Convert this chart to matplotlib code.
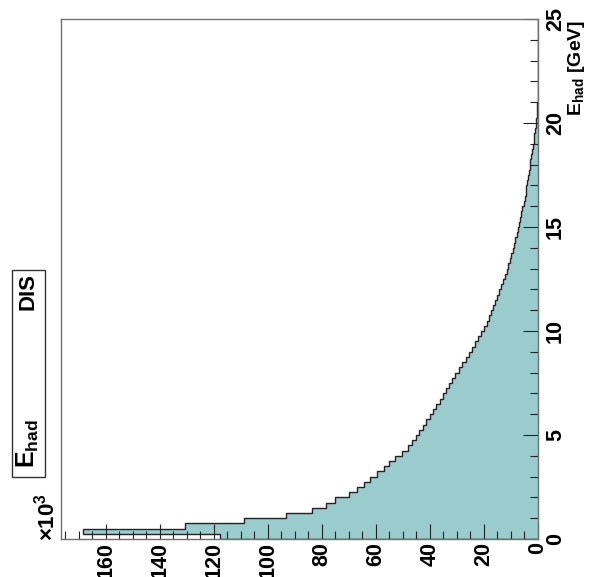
import numpy as np
import matplotlib
matplotlib.use("Agg")
import matplotlib.pyplot as plt
from matplotlib.ticker import MultipleLocator
from matplotlib.patches import Rectangle

plt.rcParams['font.family'] = ['Liberation Sans', 'DejaVu Sans']
plt.rcParams['mathtext.fontset'] = 'custom'
plt.rcParams['mathtext.rm'] = 'Liberation Sans:bold'
plt.rcParams['mathtext.bf'] = 'Liberation Sans:bold'
plt.rcParams['mathtext.default'] = 'bf'

# hadronic energy bins [GeV], 0.25 GeV wide
bin_edges = np.linspace(0, 25, 101)

# events per bin (x 10^3)
events = [
    117.7, 168.3, 130.6, 108.8, 93.3, 83.7, 78.5, 75.3, 69.8, 67.0,
    64.5, 62.0, 59.5, 57.0, 55.0, 53.0, 50.5, 48.3, 46.8, 45.3,
    44.0, 42.6, 41.3, 40.0, 38.8, 37.6, 36.4, 35.3, 34.2, 33.0,
    31.9, 30.6, 29.3, 28.0, 26.8, 25.6, 24.4, 23.3, 22.2, 21.1,
    19.9, 19.0, 18.2, 17.4, 16.6, 15.9, 15.2, 14.4, 13.6, 12.9,
    12.3, 11.6, 11.0, 10.4, 9.9, 9.4, 8.9, 8.4, 7.9, 7.5,
    7.0, 6.6, 6.2, 5.8, 5.3, 4.9, 4.6, 4.3, 4.0, 3.7,
    3.4, 3.1, 2.8, 2.5, 2.2, 1.9, 1.55, 1.3, 1.05, 0.8,
    0.6, 0.45, 0.32, 0.22, 0.15, 0.10, 0.08, 0.05, 0, 0,
    0, 0, 0, 0, 0, 0, 0, 0, 0, 0,
]

count_ticks = [0, 20, 40, 60, 80, 100, 120, 140, 160]
energy_ticks = [0, 5, 10, 15, 20, 25]

W, H = 592, 577
fig = plt.figure(figsize=(W / 100, H / 100), dpi=100)
ax = fig.add_axes([61 / W, (H - 539) / H, (538 - 61) / W, (539 - 19) / H])

fill_col = '#9bcccd'
ax.stairs(events, bin_edges, orientation='horizontal', fill=True,
          color=fill_col, linewidth=0)
ax.stairs(events, bin_edges, orientation='horizontal', fill=False,
          color='#222222', linewidth=1.0)

ax.set_xlim(max(events) * 1.049, 0)
ax.set_ylim(0, 25)

for s in ax.spines.values():
    s.set_color('#707070')
    s.set_linewidth(1.0)

ax.yaxis.tick_right()
ax.set_xticks(count_ticks)
ax.set_yticks(energy_ticks)
ax.xaxis.set_minor_locator(MultipleLocator(5))
ax.yaxis.set_minor_locator(MultipleLocator(1))
ax.tick_params(which='major', direction='in', length=10.5, width=0.8,
               color='#222222', labelsize=15.5)
ax.tick_params(which='minor', direction='in', length=5.5, width=0.8,
               color='#222222')
ax.tick_params(axis='x', which='both', bottom=True, top=False, pad=2)
ax.tick_params(axis='y', which='both', right=True, left=False, pad=5)

for lab in ax.get_xticklabels():
    lab.set_rotation(90)
    lab.set_fontweight('bold')
    lab.set_va('top')
    lab.set_ha('center')
for lab in ax.get_yticklabels():
    lab.set_rotation(90)
    lab.set_fontweight('bold')
    lab.set_va('center')
    lab.set_ha('left')

# axis title, right aligned at the top end of the energy axis
fig.text(566 / W, (H - 20) / H, r'E$_{had}$ [GeV]', rotation=90,
         ha='left', va='top', fontsize=14, fontweight='bold')

# exponent of the event axis
fig.text(59 / W, (H - 541) / H, r'$\mathregular{\times}$10$^{3}$', rotation=90,
         ha='right', va='bottom', fontsize=16, fontweight='bold')

# legend box
fig.patches.append(Rectangle((12 / W, (H - 477) / H), 33 / W, 207 / H,
                             transform=fig.transFigure, fill=False,
                             edgecolor='#333333', linewidth=1.0))
fig.text(28 / W, (H - 468) / H, r'E$_{had}$', rotation=90,
         ha='center', va='bottom', fontsize=18, fontweight='bold')
fig.text(28 / W, (H - 273) / H, 'DIS', rotation=90,
         ha='center', va='top', fontsize=16, fontweight='bold')

fig.savefig('out.png', dpi=100)
